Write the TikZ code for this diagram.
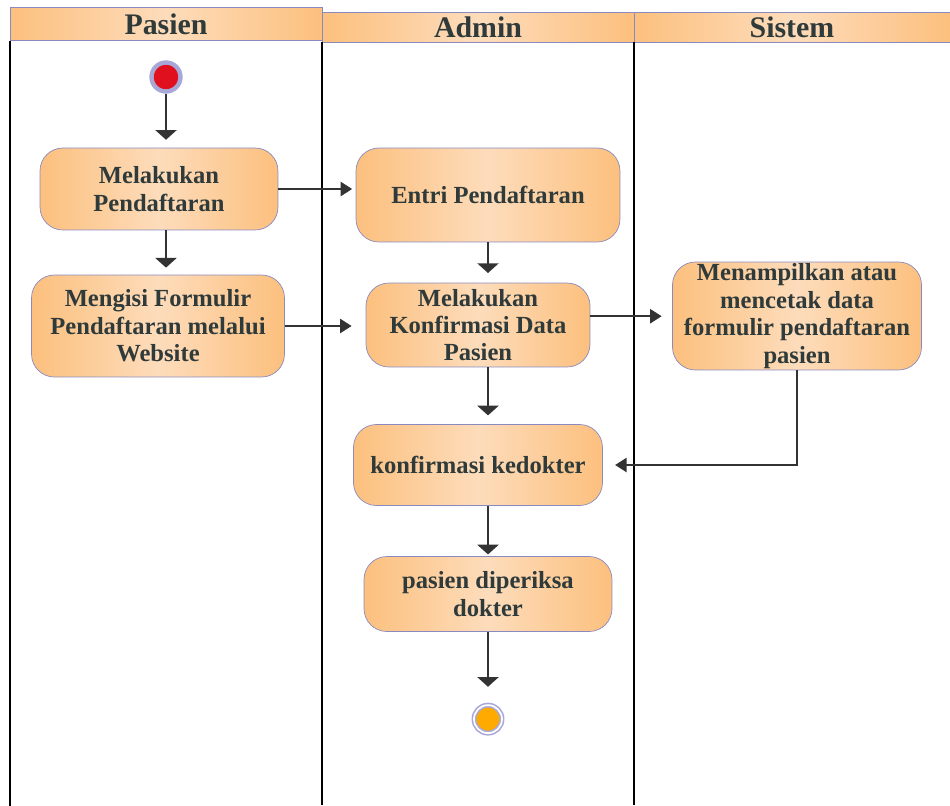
\documentclass[tikz,border=0pt]{standalone}
\usepackage{fontspec}
\setmainfont{Liberation Serif}
\usetikzlibrary{arrows.meta,positioning}
\definecolor{actside}{HTML}{FCC07E}
\definecolor{actmid}{HTML}{FDDCBB}
\definecolor{actline}{HTML}{8A8AC0}
\definecolor{acttext}{HTML}{2F3A3A}
\definecolor{flowcol}{HTML}{333333}
\definecolor{startred}{HTML}{E0101E}
\definecolor{endorange}{HTML}{FFAA00}
\definecolor{ringcol}{HTML}{A8A8D8}

\begin{document}
\begin{tikzpicture}[x=0.02cm, y=-0.02cm,
  act/.style={draw=actline, rounded corners=13pt, align=center, inner sep=0pt, left color=actside, right color=actside, middle color=actmid, text=acttext, font=\bfseries\fontsize{14}{15.6}\selectfont},
  lanehead/.style={draw=actline, inner sep=0pt, left color=actside, right color=actside, middle color=actmid, text=acttext, font=\bfseries\fontsize{17}{20}\selectfont},
  laneline/.style={draw=black, line width=1pt},
  flowv/.style={draw=flowcol, line width=1.1pt, -{Triangle[width=12pt,length=5.5pt]}},
  flowh/.style={draw=flowcol, line width=1.1pt, -{Triangle[width=8pt,length=6.5pt]}}]
\useasboundingbox (0,0) rectangle (950,805);
% swimlanes
\node[lanehead, minimum width=6.24cm, minimum height=0.66cm] (hpas) at (166,24) {Pasien};
\node[lanehead, minimum width=6.24cm, minimum height=0.6cm] (hadm) at (478,27) {Admin};
\node[lanehead, minimum width=6.32cm, minimum height=0.6cm] (hsis) at (792,27) {Sistem};
\draw[laneline] (hpas.south west) -- ++(0,765);
\draw[laneline] (hadm.south west) -- ++(0,763);
\draw[laneline] (hsis.south west) -- ++(0,763);
% activities
\node[circle, fill=startred, draw=ringcol, line width=2.5pt, minimum size=0.58cm] (S) at (166,77) {};
\node[act, minimum width=4.76cm, minimum height=1.64cm] (A) at (159,189) {Melakukan\\ Pendaftaran};
\node[act, minimum width=5.06cm, minimum height=2.04cm] (B) at (158,326) {Mengisi Formulir\\ Pendaftaran melalui\\ Website};
\node[act, minimum width=5.28cm, minimum height=1.88cm] (C) at (488,195) {Entri Pendaftaran};
\node[act, minimum width=4.48cm, minimum height=1.68cm] (D) at (478,325) {Melakukan\\ Konfirmasi Data\\ Pasien};
\node[act, minimum width=4.98cm, minimum height=2.16cm] (E) at (797,316) {Menampilkan atau\\ mencetak data\\ formulir pendaftaran\\ pasien};
\node[act, minimum width=4.98cm, minimum height=1.62cm] (F) at (478,465) {konfirmasi kedokter};
\node[act, minimum width=4.96cm, minimum height=1.5cm] (G) at (488,594) {pasien diperiksa\\ dokter};
\node[circle, fill=endorange, draw=ringcol, double=white, double distance=1pt, line width=0.9pt, minimum size=0.56cm, below=1.45cm of G] (End) {};
% flows
\draw[flowv, shorten >=4.5pt] (S) -- (S |- A.north);
\draw[flowv, shorten >=4pt] (A.south -| S) -- (B.north -| S);
\draw[flowh, shorten >=2pt] (A.east) -- (A.east -| C.west);
\draw[flowh, shorten >=8pt] (B.east) -- (B.east -| D.west);
\draw[flowv, shorten >=5.5pt] (C.south) -- (D.north -| C);
\draw[flowh, shorten >=6pt] ([yshift=5pt]D.east) -- ([yshift=5pt]D.east -| E.west);
\draw[flowv, shorten >=5pt] (D.south -| C) -- (F.north -| C);
\draw[flowh, shorten >=7pt] (E.south) |- (F.east);
\draw[flowv, shorten >=1pt] (F.south -| G) -- (G.north);
\draw[flowv, shorten >=10pt] (G.south) -- (End.north);
\end{tikzpicture}
\end{document}
